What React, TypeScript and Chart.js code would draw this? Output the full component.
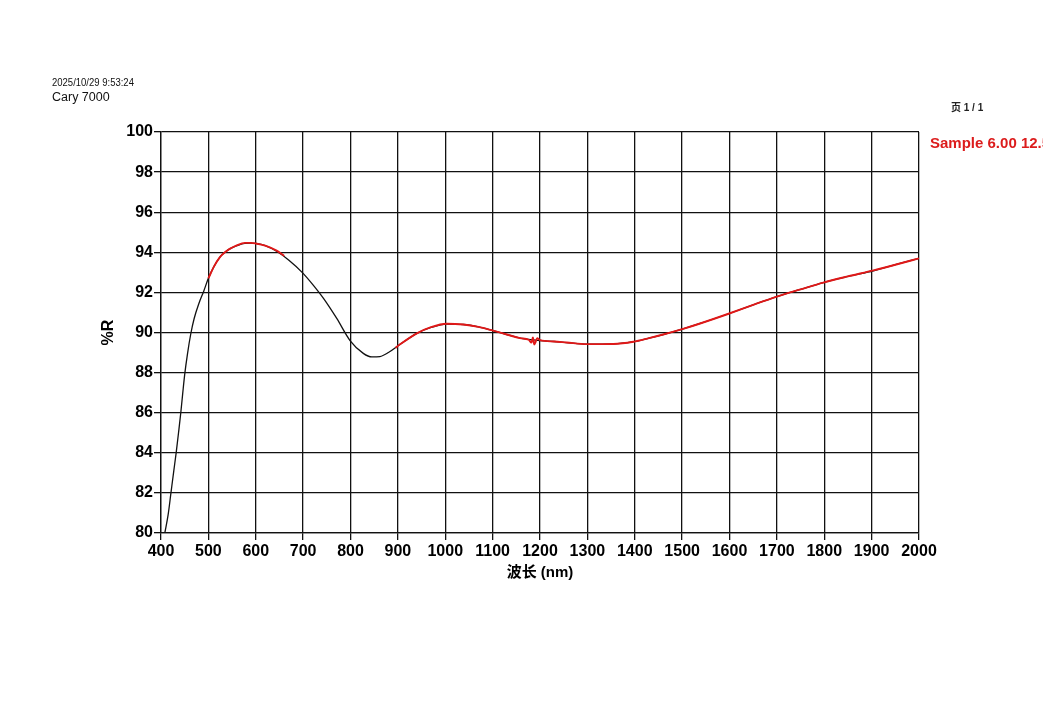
import React, { useEffect, useRef } from "react";
import { Chart, registerables } from "chart.js";

Chart.register(...registerables);

// Baseline (black) trace
const blackWavelengths = [408, 415, 421, 427, 432, 437, 442, 446, 450, 456, 463, 470, 480, 490, 500, 512, 524, 535, 545, 560, 577, 590, 600, 620, 644, 670, 700, 720, 743, 771, 799, 827, 845, 862, 880, 904, 940, 970, 1003, 1038, 1070, 1101, 1130, 1158, 1180, 1200, 1230, 1256, 1299, 1355, 1397, 1430, 1460, 1502, 1538, 1601, 1650, 1700, 1750, 1798, 1850, 1904, 1950, 2000];
const blackValues = [80.0, 80.9, 82.0, 83.1, 84.0, 85.0, 86.05, 87.0, 87.9, 88.95, 89.95, 90.7, 91.45, 92.05, 92.7, 93.3, 93.75, 94.0, 94.17, 94.33, 94.45, 94.46, 94.44, 94.33, 94.05, 93.6, 92.95, 92.4, 91.7, 90.7, 89.6, 88.96, 88.78, 88.8, 89.0, 89.4, 89.96, 90.25, 90.42, 90.4, 90.28, 90.09, 89.9, 89.72, 89.64, 89.6, 89.55, 89.5, 89.42, 89.43, 89.54, 89.72, 89.9, 90.18, 90.45, 90.96, 91.38, 91.79, 92.15, 92.49, 92.8, 93.08, 93.38, 93.7];

// Sample (red) trace; null where it lies hidden beneath the baseline on the steep descent
const redWavelengths = [500, 512, 524, 535, 545, 560, 577, 590, 600, 620, 644, 660, 760, 895, 904, 940, 970, 1003, 1038, 1070, 1101, 1130, 1158, 1176, 1182, 1185, 1188, 1191, 1194, 1200, 1230, 1256, 1299, 1355, 1397, 1430, 1460, 1502, 1538, 1601, 1650, 1700, 1750, 1798, 1850, 1904, 1950, 2000];
const redValues = [92.7, 93.3, 93.75, 94.0, 94.17, 94.35, 94.47, 94.47, 94.44, 94.33, 94.08, 93.82, null, 89.24, 89.4, 89.96, 90.27, 90.44, 90.4, 90.28, 90.09, 89.9, 89.72, 89.64, 89.5, 89.75, 89.4, 89.55, 89.72, 89.62, 89.55, 89.5, 89.42, 89.43, 89.54, 89.72, 89.9, 90.18, 90.45, 90.96, 91.38, 91.79, 92.15, 92.49, 92.8, 93.1, 93.38, 93.7];

const xTitle = "波长 (nm)";
const yTitle = "%R";
const headerDate = "2025/10/29 9:53:24";
const headerInstrument = "Cary 7000";
const pageLabel = "页 1 / 1";
const legendLabel = "Sample 6.00 12.5°";

const FONT = "'Liberation Sans', Arial, 'Noto Sans CJK SC', sans-serif";

export default function App() {
  const canvasRef = useRef<HTMLCanvasElement | null>(null);

  useEffect(() => {
    if (!canvasRef.current) return;
    const chart = new Chart(canvasRef.current, {
      type: "line",
      data: {
        datasets: [
          {
            label: "Baseline",
            data: blackWavelengths.map((x, i) => ({ x, y: blackValues[i] })),
            borderColor: "#111111",
            borderWidth: 1.3,
            pointRadius: 0,
            cubicInterpolationMode: "monotone",
            fill: false,
            order: 2,
          },
          {
            label: "Sample",
            data: redWavelengths.map((x, i) => ({ x, y: redValues[i] })),
            borderColor: "#e01818",
            borderWidth: 1.9,
            pointRadius: 0,
            cubicInterpolationMode: "monotone",
            spanGaps: false,
            fill: false,
            order: 1,
          },
        ],
      },
      options: {
        animation: false,
        responsive: true,
        maintainAspectRatio: false,
        layout: { padding: { left: 94, top: 132, right: 140, bottom: 123 } },
        plugins: { legend: { display: false }, tooltip: { enabled: false } },
        scales: {
          x: {
            type: "linear",
            min: 400,
            max: 2000,
            afterFit: (s: any) => {
              s.height = 50;
            },
            ticks: {
              stepSize: 100,
              padding: 2,
              color: "#000",
              maxRotation: 0,
              autoSkip: false,
              font: { family: FONT, size: 16, weight: "bold" },
              callback: (v: any) => String(v),
            },
            grid: { color: "#111", lineWidth: 1.3, tickLength: 7 },
            border: { color: "#111", width: 1.3 },
            title: {
              display: true,
              text: xTitle,
              color: "#000",
              padding: { top: 0, bottom: 1 },
              font: { family: FONT, size: 15, weight: "bold" },
            },
          },
          y: {
            min: 80,
            max: 100,
            afterFit: (s: any) => {
              s.width = 67;
            },
            ticks: {
              stepSize: 2,
              padding: 1,
              color: "#000",
              font: { family: FONT, size: 16, weight: "bold" },
              callback: (v: any) => String(v),
            },
            grid: { color: "#111", lineWidth: 1.3, tickLength: 7 },
            border: { color: "#111", width: 1.3 },
            title: {
              display: true,
              text: yTitle,
              color: "#000",
              padding: { top: 5, bottom: 0 },
              font: { family: FONT, size: 16, weight: "bold" },
            },
          },
        },
      },
    });
    return () => chart.destroy();
  }, []);

  return (
    <div
      style={{
        position: "absolute",
        left: 0,
        top: 0,
        width: 1059,
        height: 706,
        background: "#fff",
        overflow: "hidden",
        fontFamily: FONT,
      }}
    >
      <canvas ref={canvasRef} />
      <div
        style={{
          position: "absolute",
          left: 52,
          top: 75,
          fontSize: 11.6,
          lineHeight: "14px",
          color: "#111",
          whiteSpace: "nowrap",
          transform: "scaleX(0.82)",
          transformOrigin: "left center",
        }}
      >
        {headerDate}
      </div>
      <div
        style={{
          position: "absolute",
          left: 52,
          top: 89,
          fontSize: 12.5,
          lineHeight: "16px",
          color: "#111",
          whiteSpace: "nowrap",
        }}
      >
        {headerInstrument}
      </div>
      <div
        style={{
          position: "absolute",
          left: 951,
          top: 101,
          fontSize: 10,
          lineHeight: "14px",
          fontWeight: "bold",
          color: "#222",
          whiteSpace: "nowrap",
        }}
      >
        {pageLabel}
      </div>
      <div
        style={{
          position: "absolute",
          left: 930,
          top: 134,
          width: 113,
          overflow: "hidden",
          fontSize: 15,
          lineHeight: "18px",
          fontWeight: "bold",
          color: "#dc1c1c",
          whiteSpace: "nowrap",
        }}
      >
        {legendLabel}
      </div>
    </div>
  );
}
